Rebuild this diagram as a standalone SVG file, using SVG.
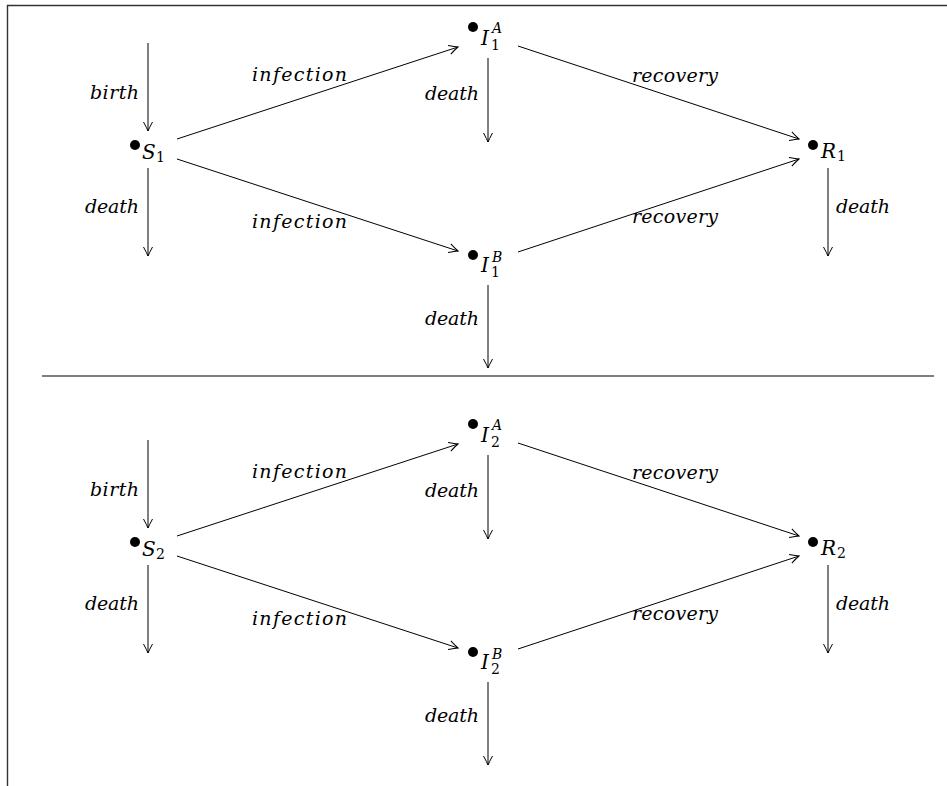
<svg xmlns="http://www.w3.org/2000/svg" width="947" height="786" viewBox="0 0 947 786">
<style>
.frame{stroke:#333;stroke-width:1.4;fill:none}
.sep{stroke:#000;stroke-width:1.2;fill:none}
.edge{stroke:#000;stroke-width:1;fill:none;marker-end:url(#to)}
.lbl{font-family:"DejaVu Serif","Liberation Serif",serif;font-style:italic;font-size:19px;fill:#000}
.nm{font-family:"DejaVu Serif","Liberation Serif",serif;font-style:italic;font-size:20px;fill:#000}
.sup{font-family:"DejaVu Serif","Liberation Serif",serif;font-style:italic;font-size:14px;fill:#000}
.sub{font-family:"DejaVu Serif","Liberation Serif",serif;font-size:14px;fill:#000}
.dot{fill:#000}
</style>
<defs>
<marker id="to" markerUnits="userSpaceOnUse" viewBox="-11 -6 13 12" refX="0" refY="0" markerWidth="13" markerHeight="12" orient="auto">
<path d="M-9,-4.5 Q-3,-1.2 0,0 Q-3,1.2 -9,4.5" fill="none" stroke="#000" stroke-width="1"/>
</marker>
</defs>
<rect width="947" height="786" fill="#fff"/>
<path class="frame" d="M7.5,786 V5.5 H947"/>
<line class="sep" x1="42" y1="376" x2="934" y2="376"/>

<g id="connectors">
<!-- panel 1 -->
<line class="edge" x1="148" y1="43" x2="148" y2="131"/>
<line class="edge" x1="148" y1="168" x2="148" y2="256"/>
<line class="edge" x1="177" y1="139" x2="458" y2="47"/>
<line class="edge" x1="177" y1="159" x2="458" y2="251"/>
<line class="edge" x1="488" y1="58" x2="488" y2="142"/>
<line class="edge" x1="488" y1="285" x2="488" y2="368"/>
<line class="edge" x1="518" y1="46" x2="799" y2="139"/>
<line class="edge" x1="518" y1="252" x2="799" y2="159"/>
<line class="edge" x1="828" y1="168" x2="828" y2="256"/>
<text class="lbl" x="139" y="99" text-anchor="end" textLength="49" lengthAdjust="spacing">birth</text>
<text class="lbl" x="139" y="213" text-anchor="end" textLength="54" lengthAdjust="spacing">death</text>
<text class="lbl" x="252" y="81" textLength="95" lengthAdjust="spacing">infection</text>
<text class="lbl" x="252" y="228" textLength="95" lengthAdjust="spacing">infection</text>
<text class="lbl" x="479" y="100" text-anchor="end" textLength="54" lengthAdjust="spacing">death</text>
<text class="lbl" x="479" y="325" text-anchor="end" textLength="54" lengthAdjust="spacing">death</text>
<text class="lbl" x="632" y="82" textLength="86" lengthAdjust="spacing">recovery</text>
<text class="lbl" x="632" y="223" textLength="86" lengthAdjust="spacing">recovery</text>
<text class="lbl" x="836" y="213" textLength="54" lengthAdjust="spacing">death</text>
<!-- panel 2 -->
<line class="edge" x1="148" y1="440" x2="148" y2="528"/>
<line class="edge" x1="148" y1="565" x2="148" y2="653"/>
<line class="edge" x1="177" y1="536" x2="458" y2="444"/>
<line class="edge" x1="177" y1="556" x2="458" y2="648"/>
<line class="edge" x1="488" y1="455" x2="488" y2="539"/>
<line class="edge" x1="488" y1="682" x2="488" y2="765"/>
<line class="edge" x1="518" y1="443" x2="799" y2="536"/>
<line class="edge" x1="518" y1="649" x2="799" y2="556"/>
<line class="edge" x1="828" y1="565" x2="828" y2="653"/>
<text class="lbl" x="139" y="496" text-anchor="end" textLength="49" lengthAdjust="spacing">birth</text>
<text class="lbl" x="139" y="610" text-anchor="end" textLength="54" lengthAdjust="spacing">death</text>
<text class="lbl" x="252" y="478" textLength="95" lengthAdjust="spacing">infection</text>
<text class="lbl" x="252" y="625" textLength="95" lengthAdjust="spacing">infection</text>
<text class="lbl" x="479" y="497" text-anchor="end" textLength="54" lengthAdjust="spacing">death</text>
<text class="lbl" x="479" y="722" text-anchor="end" textLength="54" lengthAdjust="spacing">death</text>
<text class="lbl" x="632" y="479" textLength="86" lengthAdjust="spacing">recovery</text>
<text class="lbl" x="632" y="620" textLength="86" lengthAdjust="spacing">recovery</text>
<text class="lbl" x="836" y="610" textLength="54" lengthAdjust="spacing">death</text>
</g>

<g id="S1"><circle class="dot" cx="135" cy="145" r="5"/><text class="nm" x="142" y="159">S</text><text class="sub" x="156" y="162">1</text></g>
<g id="I1A"><circle class="dot" cx="473" cy="27" r="5"/><text class="nm" x="481" y="45">I</text><text class="sup" x="492" y="33">A</text><text class="sub" x="491" y="50">1</text></g>
<g id="I1B"><circle class="dot" cx="473" cy="255" r="5"/><text class="nm" x="481" y="272">I</text><text class="sup" x="492" y="262">B</text><text class="sub" x="491" y="277">1</text></g>
<g id="R1"><circle class="dot" cx="813" cy="145" r="5"/><text class="nm" x="821" y="158">R</text><text class="sub" x="837" y="161">1</text></g>

<g id="S2"><circle class="dot" cx="135" cy="542" r="5"/><text class="nm" x="142" y="556">S</text><text class="sub" x="156" y="559">2</text></g>
<g id="I2A"><circle class="dot" cx="473" cy="424" r="5"/><text class="nm" x="481" y="442">I</text><text class="sup" x="492" y="430">A</text><text class="sub" x="491" y="447">2</text></g>
<g id="I2B"><circle class="dot" cx="473" cy="652" r="5"/><text class="nm" x="481" y="669">I</text><text class="sup" x="492" y="659">B</text><text class="sub" x="491" y="674">2</text></g>
<g id="R2"><circle class="dot" cx="813" cy="542" r="5"/><text class="nm" x="821" y="555">R</text><text class="sub" x="837" y="558">2</text></g>
</svg>
